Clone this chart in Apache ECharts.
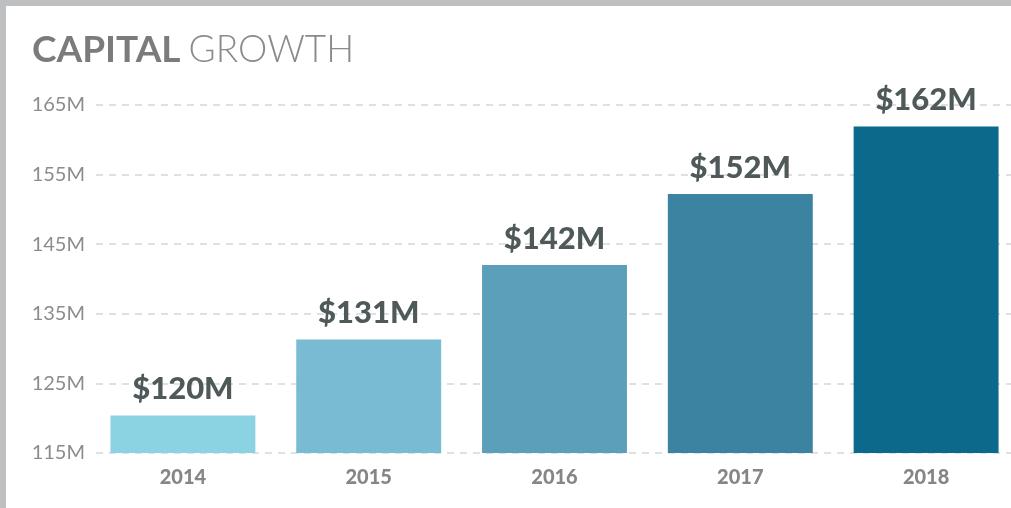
<!DOCTYPE html>
<html>
<head>
<meta charset="utf-8">
<script src="https://cdn.jsdelivr.net/npm/echarts@6/dist/echarts.min.js"></script>
<style>
  html, body { margin: 0; padding: 0; background: #fff; }
  #chart { width: 1011px; height: 508px; }
</style>
</head>
<body>
<div id="chart"></div>
<script>
// data
var years = ["2014", "2015", "2016", "2017", "2018"];
var capital = [120.4, 131.3, 142.0, 152.2, 161.9]; // millions
var barColors = ["#8bd3e3", "#7abbd4", "#5b9fba", "#3c82a1", "#0b698b"];
var yMin = 115, yMax = 165, yStep = 10;

var chart = echarts.init(document.getElementById("chart"));
var font = "Lato, 'Open Sans', sans-serif";

var option = {
  backgroundColor: "#fff",
  animation: false,
  title: {
    left: 27,
    top: 27,
    text: "{a|CAPITAL}{b|GROWTH}",
    textStyle: {
      rich: {
        a: { fontFamily: font, fontSize: 37, fontWeight: "bold", color: "#7b7b7b", padding: [0, 8, 0, 0] },
        b: { fontFamily: font, fontSize: 37, fontWeight: 300, color: "#8a8a8a" }
      }
    }
  },
  graphic: [
    { type: "rect", shape: { x: 0, y: 0, width: 1011, height: 6 }, style: { fill: "#bebfc1" }, z: 100 },
    { type: "rect", shape: { x: 0, y: 0, width: 6, height: 508 }, style: { fill: "#bebfc1" }, z: 100 }
  ],
  grid: { left: 90, width: 929, top: 105, bottom: 55, outerBoundsMode: "none", containLabel: false },
  xAxis: {
    type: "category",
    data: years,
    axisLine: { show: false },
    axisTick: { show: false },
    axisLabel: {
      margin: 15,
      color: "#868686",
      fontFamily: font,
      fontSize: 20,
      fontWeight: 900
    }
  },
  yAxis: {
    type: "value",
    min: yMin,
    max: yMax,
    interval: yStep,
    axisLine: { show: false },
    axisTick: { show: false },
    axisLabel: {
      margin: 5,
      color: "#8c8c8c",
      fontFamily: font,
      fontSize: 20,
      formatter: function (v) { return v + "M"; }
    },
    splitLine: {
      show: true,
      lineStyle: { color: "#e0e0e0", type: [7, 6], dashOffset: -6, width: 2 }
    }
  },
  series: [
    {
      type: "bar",
      data: capital.map(function (v, i) {
        return { value: v, itemStyle: { color: barColors[i] } };
      }),
      barCategoryGap: "22%",
      z: 3,
      label: {
        show: true,
        position: "top",
        distance: 11,
        color: "#4f5959",
        fontFamily: font,
        fontSize: 31,
        fontWeight: 900,
        formatter: function (p) { return "$" + Math.round(p.value) + "M"; }
      }
    }
  ]
};

chart.setOption(option);
</script>
</body>
</html>
